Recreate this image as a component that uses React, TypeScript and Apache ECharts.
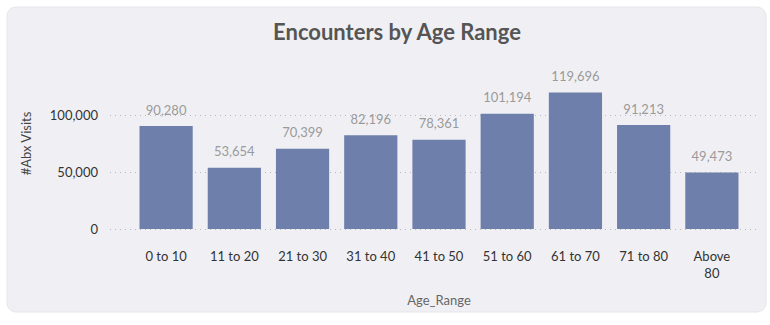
import React, { useEffect, useRef } from "react";
import * as echarts from "echarts";

const categories = ["0 to 10", "11 to 20", "21 to 30", "31 to 40", "41 to 50", "51 to 60", "61 to 70", "71 to 80", "Above\n80"];
const visits = [90280, 53654, 70399, 82196, 78361, 101194, 119696, 91213, 49473];
const yTicks = [0, 50000, 100000];
const yPlotMax = 150000;

const FONT = "Lato, 'Open Sans', sans-serif";

export default function App() {
  const ref = useRef<HTMLDivElement>(null);
  useEffect(() => {
    if (!ref.current) return;
    const chart = echarts.init(ref.current, undefined, { renderer: "svg" });
    const tickMax = yTicks[yTicks.length - 1];
    const interval = yTicks[1] - yTicks[0];
    chart.setOption({
      animation: false,
      backgroundColor: "#ffffff",
      textStyle: { fontFamily: FONT },
      graphic: [
        {
          type: "rect",
          shape: { x: 7, y: 7, width: 759, height: 305, r: 9 },
          style: { fill: "#f0f0f4", stroke: "#e6e6ea", lineWidth: 1 },
          z: -10,
          silent: true,
        },
      ],
      title: {
        text: "Encounters by Age Range",
        left: 392,
        top: 15,
        textAlign: "center",
        textStyle: { fontFamily: FONT, fontSize: 22, fontWeight: "bold", color: "#555555" },
      },
      grid: [
        { left: 110, right: 14, top: 115, bottom: 96 },
        { left: 132, right: 24, top: 58, bottom: 96 },
      ],
      xAxis: [
        { type: "value", gridIndex: 0, show: false, min: 0, max: 1 },
        {
          type: "category",
          gridIndex: 1,
          data: categories,
          axisLine: { show: false },
          axisTick: { show: false },
          axisLabel: { color: "#333333", fontSize: 13, fontFamily: FONT, margin: 18, lineHeight: 17, interval: 0 },
          name: "Age_Range",
          nameLocation: "middle",
          nameGap: 64,
          nameTextStyle: { color: "#666666", fontSize: 13, fontFamily: FONT },
        },
      ],
      yAxis: [
        {
          type: "value",
          gridIndex: 0,
          min: 0,
          max: tickMax,
          interval,
          axisLine: { show: false },
          axisTick: { show: false },
          axisLabel: {
            color: "#333333",
            fontSize: 13,
            fontFamily: FONT,
            margin: 12,
            formatter: (v: number) => v.toLocaleString("en-US"),
          },
          splitLine: {
            show: true,
            lineStyle: { type: [1, 4], color: "#b8b8c0", width: 1 },
          },
        },
        {
          type: "value",
          gridIndex: 1,
          min: 0,
          max: yPlotMax,
          interval,
          axisLine: { show: false },
          axisTick: { show: false },
          axisLabel: { show: false },
          splitLine: { show: false },
          name: "#Abx Visits",
          nameLocation: "middle",
          nameGap: 100,
          nameRotate: 90,
          nameTextStyle: { color: "#444444", fontSize: 13, fontFamily: FONT },
        },
      ],
      series: [
        {
          type: "bar",
          xAxisIndex: 1,
          yAxisIndex: 1,
          data: visits,
          barWidth: "78%",
          itemStyle: { color: "#6e7fab" },
          label: {
            show: true,
            position: "top",
            distance: 10,
            color: "#9a9a9a",
            fontSize: 13,
            fontFamily: FONT,
            formatter: (p: any) => Number(p.value).toLocaleString("en-US"),
          },
        },
      ],
    });
    return () => chart.dispose();
  }, []);
  return (
    <div style={{ position: "absolute", left: 0, top: 0, width: 770, height: 325, background: "#fff" }}>
      <div ref={ref} style={{ width: 770, height: 325 }} />
    </div>
  );
}
